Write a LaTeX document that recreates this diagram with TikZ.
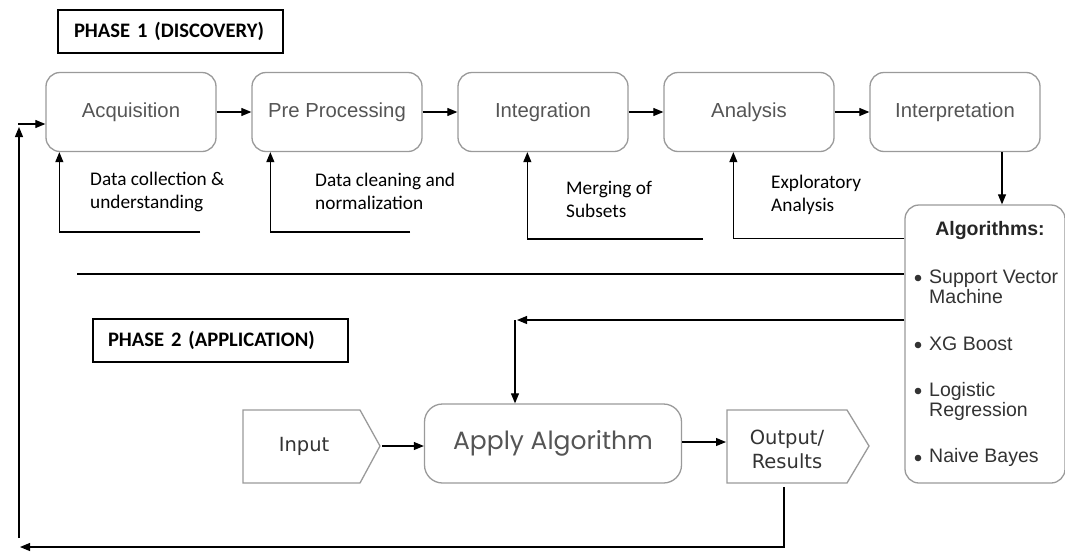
\documentclass[tikz,border=0pt]{standalone}
\usepackage{fontspec}
\setmainfont{Carlito}
\newfontfamily\arialf{Liberation Sans}
\newfontfamily\geof{Poppins}
\newfontfamily\dvf{DejaVu Sans}
\usetikzlibrary{arrows.meta,calc}
\definecolor{boxgray}{HTML}{9A9A9A}
\definecolor{txtgray}{HTML}{555555}
\definecolor{itemgray}{HTML}{333333}
\tikzset{
  arr/.style={-{Triangle[length=10pt,width=8pt]}, line width=1.1pt},
  ln/.style={line width=1.1pt},
  pbox/.style={draw=boxgray, line width=1.3pt, rounded corners=14pt,
    minimum width=170pt, minimum height=79pt, text=txtgray, inner sep=0pt,
    font=\arialf\fontsize{20.3}{23}\selectfont},
  fbtext/.style={anchor=west, align=left, inner sep=0pt,
    font=\fontsize{19.3}{23}\selectfont},
  phase/.style={draw, line width=1.2pt, align=left, inner ysep=0pt,
    minimum height=43pt, font=\bfseries\fontsize{20.6}{23}\selectfont},
  shp/.style={draw=boxgray, line width=1.3pt, line join=miter},
  dvtext/.style={font=\dvf\fontsize{19.5}{24}\selectfont, text=black!80, align=center, inner sep=0pt},
  item/.style={anchor=west, align=left, inner sep=0pt, text=itemgray,
    font=\arialf\fontsize{19.5}{20}\selectfont},
}
\begin{document}
\begin{tikzpicture}[x=1pt,y=-1pt]
\useasboundingbox (0,0) rectangle (1065,552);
\fill[white] (0,0) rectangle (1065,552);

% Phase labels
\node[phase, text width=193pt, inner xsep=16pt] (ph1) at (170.5,31.5) {PHASE 1 (DISCOVERY)};
\node[phase, text width=225pt, inner xsep=15pt] (ph2) at (220.5,340.5) {PHASE 2 (APPLICATION)};

% Phase 1 boxes
\node[pbox] (acq) at (131,112) {Acquisition};
\node[pbox] (pre) at (337,112) {Pre Processing};
\node[pbox] (integ) at (543,112) {Integration};
\node[pbox] (ana) at (749,112) {Analysis};
\node[pbox] (interp) at (955,112) {Interpretation};

\draw[arr] (acq) -- (pre);
\draw[arr] (pre) -- (integ);
\draw[arr] (integ) -- (ana);
\draw[arr] (ana) -- (interp);

% feedback texts
\node[fbtext] (t1) at (90,191.5) {Data collection \&\\understanding};
\node[fbtext] (t2) at (315,191.5) {Data cleaning and\\normalization};
\node[fbtext] (t3) at (566,199.5) {Merging of\\Subsets};
\node[fbtext] (t4) at (771,195) {Exploratory\\Analysis};

% feedback arrows
\coordinate (fb1) at (200,232);
\coordinate (fb2) at (410,232);
\coordinate (fb3) at (703,239);
\draw[arr] (fb1) -| ($(acq.south west)+(14,0)$);
\draw[arr] (fb2) -| ($(pre.south west)+(19,0)$);
\draw[arr] (fb3) -| ($(integ.south west)+(70,0)$);

% Algorithms box
\node[draw=boxgray, line width=1.3pt, rounded corners=14pt, minimum width=160pt,
      minimum height=278pt, inner sep=0pt] (alg) at (985,344) {};
\node[font=\arialf\bfseries\fontsize{19.5}{23}\selectfont, text=black!85, inner sep=0pt] (algt) at (990,230) {Algorithms:};
\node[item] (i1) at (929,287) {Support Vector\\Machine};
\node[item] (i2) at (929,344) {XG Boost};
\node[item] (i3) at (929,401.5) {Logistic\\Regression};
\node[item] (i4) at (929,457) {Naive Bayes};
\foreach \yy in {278,345,391,458} \fill[black!80] (918,\yy) circle (3.3pt);

\coordinate (dn) at (1002,152);
\draw[arr] (dn) -- (dn |- alg.north);
\draw[arr] ($(alg.north west)+(0,34)$) -| ($(ana.south west)+(70,0)$);
\coordinate (sepL) at (77,274);
\draw[ln] (sepL) -- (sepL -| alg.west);

% Phase 2
\node[draw=boxgray, line width=1.3pt, rounded corners=18pt, minimum width=257pt,
      minimum height=79pt, text=txtgray, inner sep=0pt,
      font=\geof\fontsize{25}{28}\selectfont] (apply) at (553,443.5) {Apply Algorithm};

\coordinate (feedC) at (517,320);
\coordinate (feedD) at (515,320);
\draw[arr] (feedC -| alg.west) -- (feedC);
\draw[arr] (feedD) -- (feedD |- apply.north);

% Input shape
\draw[shp] (243,410) -- (360,410) -- (380,446) -- (360,483) -- (243,483) -- cycle;
\node[dvtext] (inp) at (304,446) {Input};
\coordinate (inptip) at (382,446);
\draw[arr] (inptip) -- (inptip -| apply.west);

% Output shape
\draw[shp] (727,410) -- (847,410) -- (869,446) -- (847,483) -- (727,483) -- cycle;
\node[dvtext] (outt) at (787,449) {Output/\\Results};
\coordinate (outW) at (726,442);
\draw[arr] (outW -| apply.east) -- (outW);

% return path
\coordinate (outS) at (784,487);
\coordinate (retEnd) at (20,547);
\draw[arr] (outS) |- (retEnd);
\coordinate (vbot) at (19,538);
\coordinate (vtop) at (19,127);
\draw[arr] (vbot) -- (vtop);
\coordinate (hst) at (18,124);
\draw[arr] (hst) -- (hst -| acq.west);
\end{tikzpicture}
\end{document}
